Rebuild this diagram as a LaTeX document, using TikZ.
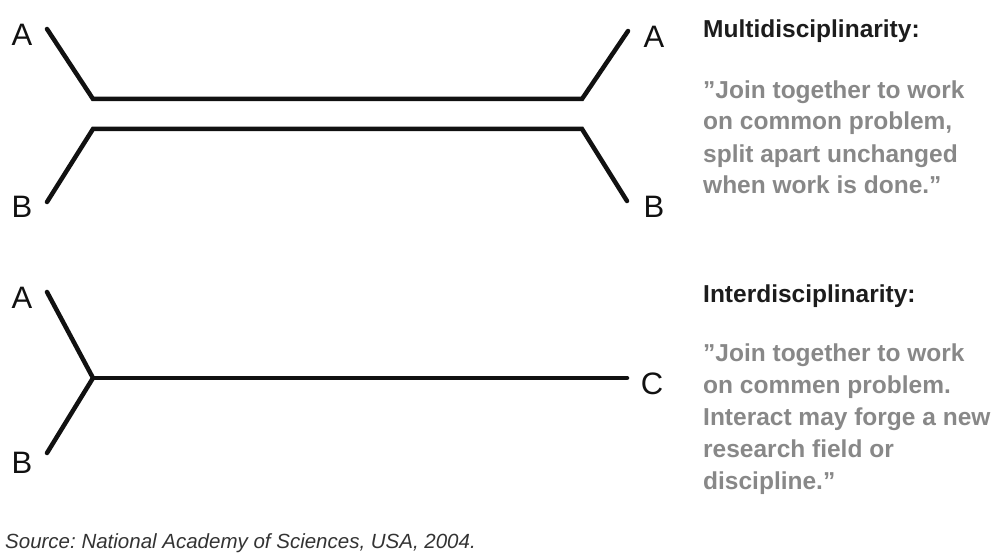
\documentclass[tikz,border=0pt]{standalone}
\usepackage{fontspec}
\setmainfont{Liberation Sans}
\frenchspacing
\definecolor{linec}{HTML}{111111}
\definecolor{greytext}{HTML}{888888}
\definecolor{headc}{HTML}{1C1C1C}
\definecolor{srcc}{HTML}{333333}
\begin{document}
\begin{tikzpicture}[x=1pt,y=-1pt,
  branch/.style={draw=linec,line width=4.5pt,line cap=round,line join=miter},
  letter/.style={inner sep=0pt,font=\fontsize{31}{33}\selectfont,text=linec},
  head/.style={inner sep=0pt,anchor=base west,font=\bfseries\fontsize{24.5}{26}\selectfont,text=headc},
  quote/.style={inner sep=0pt,anchor=base west,align=left,font=\bfseries\fontsize{24.5}{32}\selectfont,text=greytext}]
\useasboundingbox (0,0) rectangle (1001,556);
% --- Multidisciplinarity ---
\node[letter] (aL1) at (22,35) {A};
\node[letter] (bL1) at (22,207) {B};
\node[letter] (aR1) at (654,37) {A};
\node[letter] (bR1) at (654,207) {B};
\coordinate (a1s) at (47,29);
\coordinate (j1l) at (93,99);
\coordinate (j1r) at (582,99);
\coordinate (a1e) at (628,31);
\coordinate (b1s) at (47,202);
\coordinate (k1l) at (93,129);
\coordinate (k1r) at (582,129);
\coordinate (b1e) at (627,201);
\draw[branch] (a1s) -- (j1l) -- (j1r) -- (a1e);
\draw[branch] (b1s) -- (k1l) -- (k1r) -- (b1e);
\node[head] (h1) at (703,38) {Multidisciplinarity:};
\node[quote] (q1) at (703,194) {"Join together to work\\on common problem,\\split apart unchanged\\when work is done."};
% --- Interdisciplinarity ---
\node[letter] (aL2) at (22,298) {A};
\node[letter] (bL2) at (22,463) {B};
\node[letter] (cR2) at (652,384) {C};
\coordinate (a2s) at (47,292);
\coordinate (j2) at (93,378);
\coordinate (b2s) at (47,453);
\coordinate (c2e) at (627,378);
\draw[branch] (a2s) -- (j2) -- (b2s);
\draw[branch] (j2) -- (c2e);
\node[head] (h2) at (703,302) {Interdisciplinarity:};
\node[quote] (q2) at (703,489) {"Join together to work\\on commen problem.\\Interact may forge a new\\research field or\\discipline."};
% --- source ---
\node[inner sep=0pt,anchor=base west,font=\itshape\fontsize{20.5}{22}\selectfont,text=srcc] (src) at (5,548) {Source: National Academy of Sciences, USA, 2004.};
\end{tikzpicture}
\end{document}
